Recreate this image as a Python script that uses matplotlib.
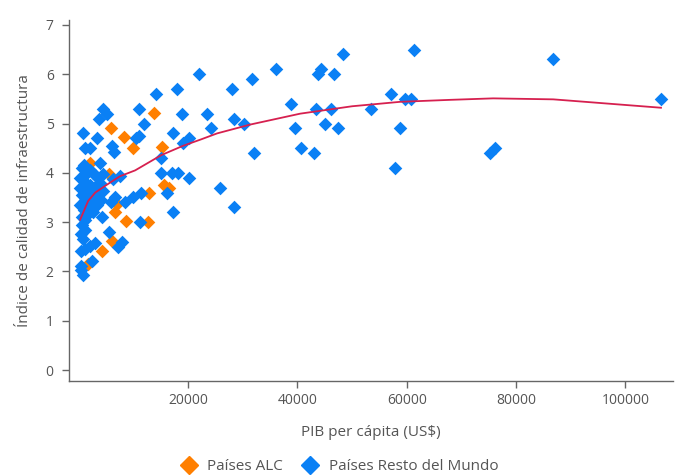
import matplotlib
matplotlib.use("Agg")
import matplotlib.pyplot as plt
from matplotlib.lines import Line2D

plt.rcParams['font.family'] = ['Open Sans', 'DejaVu Sans']

# Latin America & Caribbean countries: GDP per capita (US$), infrastructure index
alc_gdp = [5900, 8300, 9900, 13800, 15200, 2100, 5600, 15600, 16500, 12800,
           6900, 6600, 8700, 12700, 6100, 4200, 1600, 3200]
alc_idx = [4.9, 4.72, 4.5, 5.22, 4.52, 4.2, 3.97, 3.75, 3.7, 3.6,
           3.37, 3.21, 3.02, 3.0, 2.62, 2.42, 2.16, 3.53]

# Rest of the world
row_gdp = [106500, 86800, 75200, 76200, 61400, 60800, 59700, 58800, 57900, 57200,
           53500, 48400, 47500, 46700, 46200, 45100, 44300, 43800, 43300, 43100,
           40700, 39600, 38900, 36100, 32100, 31600, 30300, 28400, 28100, 28400,
           25900, 24100, 23500, 22000, 18000, 14100, 18900, 17300, 20200, 19100,
           15100, 15100, 17100, 18200, 20200, 16200, 17300, 12000, 11000, 4500,
           5200, 3700, 800, 3300, 10500, 11000, 1200, 2100, 6100, 6400,
           3900, 11400, 9900, 8500, 6600, 5800, 4300, 11200, 5500, 7900,
           7200, 3000, 2100, 1200, 400, 400, 400, 800, 2400, 6300,
           7600,
           # dense low-income cluster
           300, 800, 300, 1000, 600, 1200, 300, 900, 500, 1100,
           600, 1200, 400, 700, 1000, 500, 1500, 2100, 2600, 3000,
           3500, 4400, 3900, 3000, 2000, 1500, 2600, 3500, 4400, 2000,
           2800, 4000, 1700, 2300, 3300, 900, 1400, 2500]
row_idx = [5.5, 6.3, 4.4, 4.5, 6.5, 5.5, 5.5, 4.9, 4.1, 5.6,
           5.3, 6.4, 4.9, 6.0, 5.3, 5.0, 6.1, 6.0, 5.3, 4.4,
           4.5, 4.9, 5.4, 6.1, 4.4, 5.9, 5.0, 5.1, 5.7, 3.3,
           3.7, 4.9, 5.2, 6.0, 5.7, 5.6, 5.2, 4.8, 4.7, 4.6,
           4.3, 4.0, 4.0, 4.0, 3.9, 3.6, 3.2, 5.0, 5.3, 5.3,
           5.2, 5.1, 4.8, 4.7, 4.7, 4.75, 4.5, 4.5, 4.55, 4.42,
           4.2, 3.6, 3.5, 3.4, 3.5, 3.4, 3.1, 3.0, 2.8, 2.6,
           2.5, 2.58, 2.52, 2.46, 2.42, 2.12, 2.02, 1.92, 2.22, 3.87,
           3.93,
           3.9, 3.85, 3.7, 3.65, 3.55, 3.45, 3.35, 3.25, 3.1, 3.05,
           2.95, 2.85, 2.75, 2.65, 4.1, 4.1, 4.0, 4.05, 4.0, 3.95,
           3.9, 3.97, 3.8, 3.72, 3.75, 3.7, 3.6, 3.65, 3.63, 3.55,
           3.5, 3.45, 3.3, 3.4, 3.35, 4.15, 3.15, 3.2]

# Fitted trend
trend_gdp = [240, 1700, 3000, 5000, 7500, 10300, 15100, 19100, 22400, 25300,
             31400, 40500, 50000, 58800, 67950, 75800, 86800, 106500]
trend_idx = [3.05, 3.43, 3.6, 3.75, 3.93, 4.05, 4.36, 4.55, 4.68, 4.8,
             4.98, 5.2, 5.35, 5.44, 5.48, 5.51, 5.49, 5.32]

x_ticks = [20000, 40000, 60000, 80000, 100000]
y_ticks = [0, 1, 2, 3, 4, 5, 6, 7]

ORANGE = '#FF7F00'
BLUE = '#0A80F5'
LINE = '#D6204F'
GREY = '#555555'
SPINE = '#666666'

fig = plt.figure(figsize=(6.78, 4.75), dpi=100)
ax = fig.add_axes([0.1018, 0.1985, 0.8908, 0.7595])

ax.scatter(row_gdp, row_idx, marker='D', s=48, color=BLUE, linewidths=0, zorder=2)
ax.scatter(alc_gdp, alc_idx, marker='D', s=48, color=ORANGE, linewidths=0, zorder=1)
ax.plot(trend_gdp, trend_idx, color=LINE, lw=1.3, zorder=3)

ax.set_xlim(-1800, 108700)
ax.set_ylim(-0.215, 7.1)
ax.set_xticks(x_ticks)
ax.set_xticklabels([str(v) for v in x_ticks])
ax.set_yticks(y_ticks)

for side in ('top', 'right'):
    ax.spines[side].set_visible(False)
for side in ('left', 'bottom'):
    ax.spines[side].set_color(SPINE)
    ax.spines[side].set_linewidth(1.0)
ax.tick_params(axis='both', colors=SPINE, labelcolor=GREY, labelsize=10,
               length=5, width=1.0)
ax.tick_params(axis='x', pad=4)
ax.tick_params(axis='y', pad=6)

ax.set_xlabel('PIB per cápita (US$)', fontsize=11, color=GREY, labelpad=12)
ax.set_ylabel('Índice de calidad de infraestructura', fontsize=11, color=GREY, labelpad=10)

handles = [
    Line2D([], [], marker='D', linestyle='none', markersize=9, color=ORANGE,
           label='Países ALC'),
    Line2D([], [], marker='D', linestyle='none', markersize=9, color=BLUE,
           label='Países Resto del Mundo'),
]
fig.legend(handles=handles, loc='center', bbox_to_anchor=(0.5, 0.018),
           ncol=2, frameon=False, fontsize=11, labelcolor=GREY,
           handletextpad=0.6, columnspacing=1.2, handlelength=1.2)

fig.savefig('out.png', dpi=100)
